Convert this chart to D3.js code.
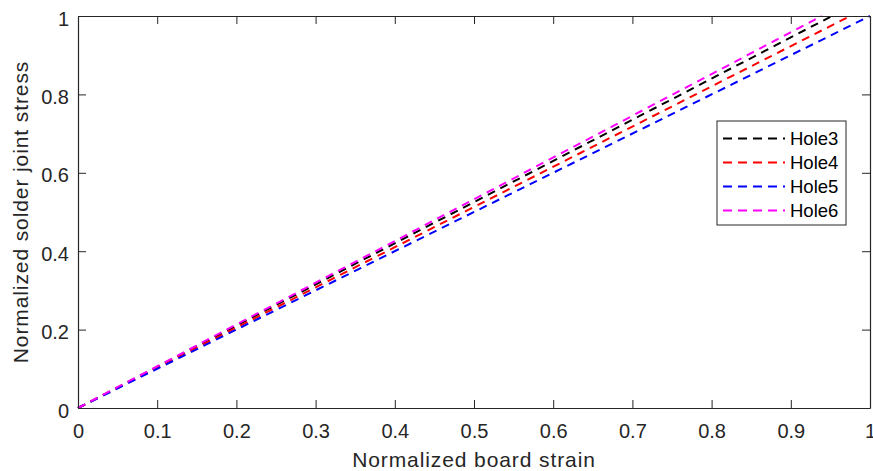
<!DOCTYPE html>
<html>
<head>
<meta charset="utf-8">
<script src="https://cdn.jsdelivr.net/npm/d3@7"></script>
<style>
  html, body { margin: 0; padding: 0; background: #fff; }
  svg { display: block; font-family: "Liberation Sans", Arial, Helvetica, sans-serif; }
</style>
</head>
<body>
<svg id="chart" width="873" height="471"></svg>
<script>
// Hole series: linear response from origin up to stress = 1
const seriesNames = ["Hole3", "Hole4", "Hole5", "Hole6"];
const seriesColors = ["#000000", "#ff0000", "#0000ff", "#ff00ff"];
const strainPoints = [
  [0, 0.952],
  [0, 0.975],
  [0, 1.0],
  [0, 0.939]
];
const stressPoints = [
  [0, 1],
  [0, 1],
  [0, 1],
  [0, 1]
];
const xTicks = [0, 0.1, 0.2, 0.3, 0.4, 0.5, 0.6, 0.7, 0.8, 0.9, 1];
const yTicks = [0, 0.2, 0.4, 0.6, 0.8, 1];

const svg = d3.select("#chart");
const margin = { left: 78, right: 3, top: 16, bottom: 63 };
const W = 873, H = 471;
const x = d3.scaleLinear().domain([0, 1]).range([margin.left, W - margin.right]);
const y = d3.scaleLinear().domain([0, 1]).range([H - margin.bottom, margin.top]);

const axisColor = "#262626";
const tickLen = 8;
const fmt = d => d3.format("~g")(d);

// data lines
const line = d3.line().x(d => x(d[0])).y(d => y(d[1]));
seriesNames.forEach((name, i) => {
  const pts = strainPoints[i].map((s, j) => [s, stressPoints[i][j]]);
  svg.append("path")
    .datum(pts)
    .attr("d", line)
    .attr("fill", "none")
    .attr("stroke", seriesColors[i])
    .attr("stroke-width", 2)
    .attr("stroke-dasharray", "8,6");
});

// axes with inward ticks on all four sides
const axBottom = svg.append("g").attr("transform", `translate(0,${y(0)})`)
  .call(d3.axisBottom(x).tickValues(xTicks).tickSizeInner(-tickLen).tickSizeOuter(0).tickFormat(fmt));
const axTop = svg.append("g").attr("transform", `translate(0,${y(1)})`)
  .call(d3.axisTop(x).tickValues(xTicks).tickSizeInner(-tickLen).tickSizeOuter(0).tickFormat(""));
const axLeft = svg.append("g").attr("transform", `translate(${x(0)},0)`)
  .call(d3.axisLeft(y).tickValues(yTicks).tickSizeInner(-tickLen).tickSizeOuter(0).tickFormat(fmt));
const axRight = svg.append("g").attr("transform", `translate(${x(1)},0)`)
  .call(d3.axisRight(y).tickValues(yTicks).tickSizeInner(-tickLen).tickSizeOuter(0).tickFormat(""));

[axBottom, axTop, axLeft, axRight].forEach(g => {
  g.select(".domain").attr("stroke", axisColor).attr("stroke-width", 1.2);
  g.selectAll(".tick line").attr("stroke", axisColor).attr("stroke-width", 1);
  g.selectAll("text").attr("fill", axisColor).style("font-size", "20px")
    .style("font-family", "'Liberation Sans', Arial, sans-serif");
});
axBottom.selectAll("text").attr("y", 30).attr("dy", 0);
axLeft.selectAll("text").attr("x", -9).attr("dy", "0.45em");

// axis titles
svg.append("text")
  .attr("x", (x(0) + x(1)) / 2).attr("y", 467)
  .attr("text-anchor", "middle")
  .attr("fill", axisColor)
  .style("font-size", "21px")
  .style("letter-spacing", "0.9px")
  .text("Normalized board strain");
svg.append("text")
  .attr("transform", `translate(28,${(y(0) + y(1)) / 2}) rotate(-90)`)
  .attr("text-anchor", "middle")
  .attr("fill", axisColor)
  .style("font-size", "21px")
  .style("letter-spacing", "0.9px")
  .text("Normalized solder joint stress");

// legend
const lg = svg.append("g").attr("transform", "translate(717,121)");
lg.append("rect").attr("width", 129).attr("height", 104)
  .attr("fill", "#fff").attr("stroke", axisColor).attr("stroke-width", 1);
seriesNames.forEach((name, i) => {
  const ry = 17.5 + i * 24;
  lg.append("line")
    .attr("x1", 6).attr("x2", 68).attr("y1", ry).attr("y2", ry)
    .attr("stroke", seriesColors[i]).attr("stroke-width", 2)
    .attr("stroke-dasharray", "9,6");
  lg.append("text").attr("x", 73).attr("y", ry).attr("dy", "0.36em")
    .attr("fill", "#000").style("font-size", "18.5px").text(name);
});
</script>
</body>
</html>
